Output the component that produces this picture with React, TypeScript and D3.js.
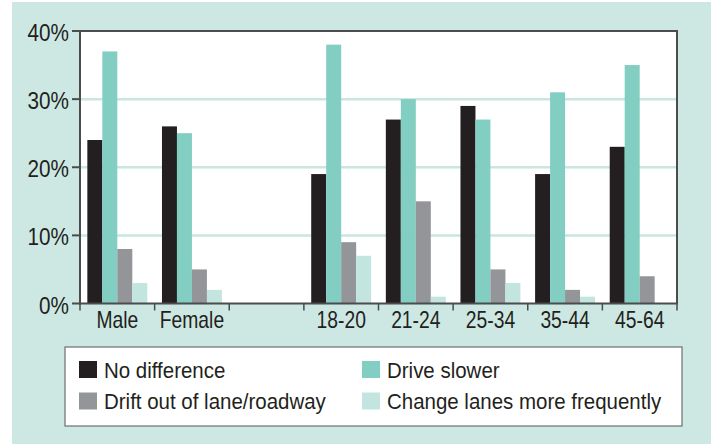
import { scaleBand, scaleLinear } from 'd3'

// grouped bars: how drivers say they change behaviour, split by sex and age band

const categories = ['Male', 'Female', '', '18-20', '21-24', '25-34', '35-44', '45-64']
const seriesNames = ['No difference', 'Drive slower', 'Drift out of lane/roadway', 'Change lanes more frequently']
const noDifference = [24, 26, null, 19, 27, 29, 19, 23]
const driveSlower = [37, 25, null, 38, 30, 27, 31, 35]
const driftOut = [8, 5, null, 9, 15, 5, 2, 4]
const changeLanes = [3, 2, null, 7, 1, 3, 1, 0]
const yTicks = [0, 10, 20, 30, 40]

const COLORS = ['#231f20', '#82cec2', '#939598', '#c3e5df']
const BG = '#cde8e3'
const AXIS = '#4a4d4c'
const INK = '#231f20'
// no condensed Helvetica here, so Liberation Sans is squeezed horizontally
const FONT = '"Liberation Sans", Arial, sans-serif'

const W = 711
const H = 444
const PLOT = { left: 80, right: 677, top: 31, bottom: 303.5 }

function NarrowText({ x, y, sx, size, anchor = 'start', children }: {
  x: number
  y: number
  sx: number
  size: number
  anchor?: 'start' | 'middle' | 'end'
  children: React.ReactNode
}) {
  return (
    <text transform={`translate(${x},${y}) scale(${sx},1)`} textAnchor={anchor} fontSize={size} fill={INK}>
      {children}
    </text>
  )
}

export default function App() {
  const series = [noDifference, driveSlower, driftOut, changeLanes]

  const x = scaleBand().domain(categories.map((c, i) => `${i}`)).range([PLOT.left, PLOT.right]).padding(0)
  const xInner = scaleBand().domain(seriesNames).range([0, x.bandwidth()]).paddingInner(0).paddingOuter(0.49)
  const y = scaleLinear().domain([0, 40]).range([PLOT.bottom, PLOT.top])

  const legendRows = [
    [0, 1],
    [2, 3],
  ]

  return (
    <svg width={W} height={H} style={{ position: 'absolute', left: 0, top: 0 }} fontFamily={FONT}>
      <rect x={0} y={0} width={W} height={H} fill="#fff" />
      <rect x={12} y={2} width={W - 12} height={H - 2} fill={BG} />

      {/* plot area */}
      <rect x={PLOT.left} y={PLOT.top} width={PLOT.right - PLOT.left} height={PLOT.bottom - PLOT.top} fill="#fff" />
      {yTicks.slice(1, -1).map((t) => (
        <line key={t} x1={PLOT.left} x2={PLOT.right} y1={y(t)} y2={y(t)} stroke="#c9e6e0" strokeWidth={2.5} />
      ))}

      {categories.map((c, ci) => (
        <g key={ci} transform={`translate(${x(`${ci}`)},0)`}>
          {series.map((vals, si) => {
            const v = vals[ci]
            if (v == null || v === 0) return null
            return (
              <rect
                key={si}
                x={xInner(seriesNames[si])}
                y={y(v)}
                width={xInner.bandwidth()}
                height={y(0) - y(v)}
                fill={COLORS[si]}
              />
            )
          })}
        </g>
      ))}

      {/* frame + axes */}
      <line x1={PLOT.left - 1} x2={PLOT.right + 1} y1={PLOT.top} y2={PLOT.top} stroke={AXIS} strokeWidth={2} />
      <line x1={PLOT.right} x2={PLOT.right} y1={PLOT.top} y2={PLOT.bottom} stroke={AXIS} strokeWidth={2} />
      <line x1={PLOT.left} x2={PLOT.left} y1={PLOT.top} y2={PLOT.bottom + 1} stroke={AXIS} strokeWidth={2} />
      <line x1={PLOT.left - 1} x2={PLOT.right + 1} y1={PLOT.bottom} y2={PLOT.bottom} stroke={AXIS} strokeWidth={2} />

      {yTicks.map((t) => (
        <g key={t}>
          <line x1={PLOT.left - 8} x2={PLOT.left} y1={y(t)} y2={y(t)} stroke={AXIS} strokeWidth={2} />
          <NarrowText x={69} y={y(t) + 10} sx={0.9} size={23} anchor="end">
            {`${t}%`}
          </NarrowText>
        </g>
      ))}

      {[...categories.map((_, i) => x(`${i}`) ?? 0), PLOT.right].map((bx, i) => (
        <line key={i} x1={bx} x2={bx} y1={PLOT.bottom} y2={PLOT.bottom + 7} stroke={AXIS} strokeWidth={1.5} />
      ))}
      {categories.map((c, ci) => (
        <NarrowText key={ci} x={(x(`${ci}`) ?? 0) + x.bandwidth() / 2} y={327.5} sx={0.84} size={23} anchor="middle">
          {c}
        </NarrowText>
      ))}

      {/* legend */}
      <rect x={65} y={347} width={617} height={79} fill="#fff" stroke="#6d6f6e" strokeWidth={1.2} />
      {legendRows.map((row, ri) =>
        row.map((si, col) => {
          const lx = col === 0 ? 79 : 362
          const ly = 361 + ri * 31.5
          return (
            <g key={si}>
              <rect x={lx} y={ly} width={18} height={17} fill={COLORS[si]} />
              <NarrowText x={lx + 25} y={ly + 16.5} sx={0.91} size={22.5}>
                {seriesNames[si]}
              </NarrowText>
            </g>
          )
        }),
      )}
    </svg>
  )
}
